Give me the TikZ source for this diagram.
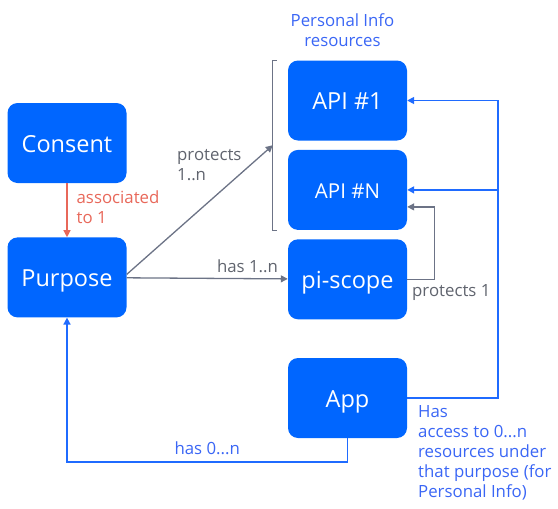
\documentclass[tikz,border=0pt]{standalone}
\usepackage{fontspec}
\setmainfont{Open Sans}
\usepackage{tikz}
\usetikzlibrary{arrows.meta,positioning,calc}
\usepackage{xcolor}
\definecolor{boxblue}{HTML}{0066FF}
\definecolor{linkgray}{HTML}{6C7386}
\definecolor{textgray}{HTML}{60646E}
\definecolor{assocred}{HTML}{E8685A}
\definecolor{appblue}{HTML}{1F6BFF}
\definecolor{appText}{HTML}{3A66F5}

\begin{document}
\begin{tikzpicture}[x=1pt, y=-1pt,
    box/.style={fill=boxblue, text=white, rounded corners=10pt, minimum width=119pt,
        minimum height=80pt, inner sep=0pt, text height=18.4pt, text depth=0pt,
        font=\fontsize{23.5}{28}\selectfont},
    tip/.style={-{Triangle[width=7pt,length=7pt]}},
    graylink/.style={draw=linkgray, line width=1.3pt, tip},
    redlink/.style={draw=assocred, line width=1.3pt, tip},
    applink/.style={draw=appblue, line width=1.6pt, tip},
    lbl/.style={inner sep=0pt, align=left, font=\fontsize{16.8}{20}\selectfont},
    gray lbl/.style={lbl, text=textgray},
    blue lbl/.style={lbl, text=appText}]
    \useasboundingbox (0,0) rectangle (558,509);

    % boxes
    \node[box] (consent) at (67,143) {Consent};
    \node[box, below=54pt of consent] (purpose) {Purpose};
    \node[box] (api1) at (347.5,100.5) {API \#1};
    \node[box, below=9pt of api1, text height=16.6pt, font=\fontsize{20.5}{24}\selectfont] (apin) {API \#N};
    \node[box, below=9pt of apin] (piscope) {pi-scope};
    \node[box] (app) at (347.5,398) {App};

    \node[blue lbl, align=center, above=13pt of api1, xshift=-5pt] (resources) {Personal Info\\resources};

    % bracket round the APIs
    \coordinate (brtop) at ([xshift=-11pt]api1.north west);
    \coordinate (brbot) at ([xshift=-11pt]apin.south west);
    \draw[linkgray, line width=1pt] (brtop) -- ++(-4,0) coordinate (brtl) -- (brtl |- brbot) -- (brbot);
    \coordinate (brmid) at ($(brtl)!0.5!(brtl |- brbot)$);

    % links
    \draw[redlink] (consent) -- node[gray lbl, text=assocred, right=9pt, yshift=3pt] (assoc) {associated\\to 1} (purpose);
    \draw[graylink] ([yshift=3pt]purpose.east) -- (brmid);
    \node[gray lbl, anchor=west] (protects) at (177,165) {protects\\1..n};
    \draw[graylink] (purpose) -- node[gray lbl, pos=0.75, above=5pt] (has) {has 1..n} (piscope);
    \draw[graylink] (piscope.east) -- ++(27,0) coordinate (psbend)
        |- ([yshift=-17pt]apin.east);
    \node[gray lbl, anchor=north west] (protone) at (412,284.5) {protects 1};

    \coordinate (appbend) at ([xshift=91pt]app.east);
    \draw[applink] (app.east) -- (appbend) |- (api1.east);
    \draw[applink] (appbend |- apin.east) -- (apin.east);
    \draw[applink] (app.south) -- ++(0,24) -| node[blue lbl, pos=0.25, above=6.5pt] (haszero) {has 0...n} (purpose.south);
    \node[blue lbl, anchor=north west] (access) at (418,405) {Has\\access to 0...n\\resources under\\that purpose (for\\Personal Info)};
\end{tikzpicture}
\end{document}
